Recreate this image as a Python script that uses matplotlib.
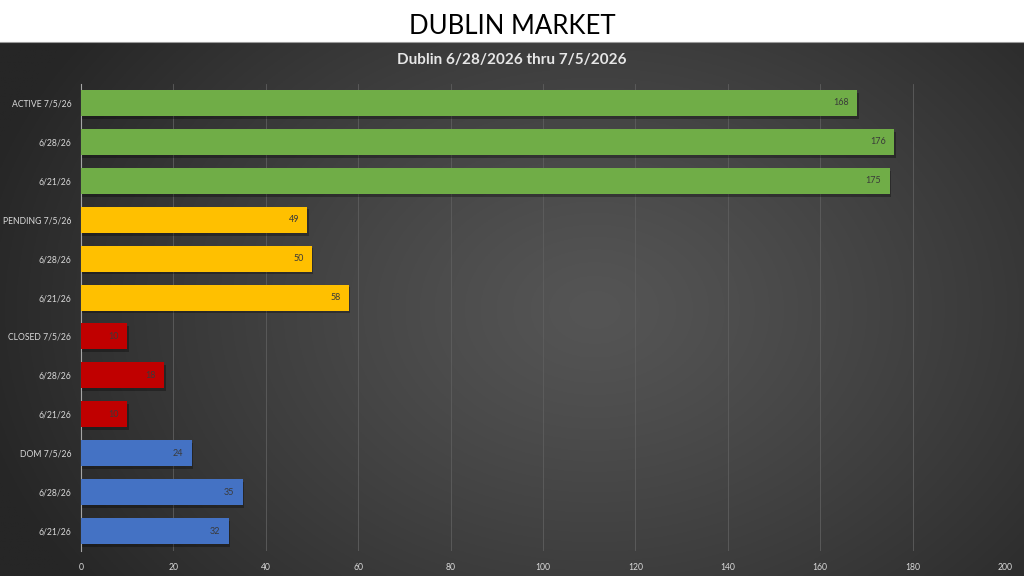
import numpy as np
import matplotlib
matplotlib.use("Agg")
import matplotlib.pyplot as plt
import matplotlib.patheffects as pe

plt.rcParams['font.family'] = ['Lato', 'DejaVu Sans']

# ---- data ----
labels = ["ACTIVE 7/5/26", "6/28/26", "6/21/26",
          "PENDING 7/5/26", "6/28/26", "6/21/26",
          "CLOSED 7/5/26", "6/28/26", "6/21/26",
          "DOM 7/5/26", "6/28/26", "6/21/26"]
active = [168, 176, 175]
pending = [49, 50, 58]
closed = [10, 18, 10]
dom = [24, 35, 32]
values = active + pending + closed + dom
group_colors = ["#70AD47", "#FFC000", "#C00000", "#4472C4"]
colors = [c for c in group_colors for _ in range(3)]
xticks = list(range(0, 201, 20))

title = "DUBLIN MARKET"
subtitle = "Dublin 6/28/2026 thru 7/5/2026"

W, H = 1024, 576
fig = plt.figure(figsize=(W / 100, H / 100), dpi=100)
fig.patch.set_facecolor("white")

# dark panel with radial gradient
panel_top = 42
bg = fig.add_axes([0, 0, 1, 1 - panel_top / H])
ny, nx = 300, 600
yy, xx = np.mgrid[0:ny, 0:nx]
cx, cy = 0.58 * nx, 0.50 * ny
d = np.sqrt(((xx - cx) / nx) ** 2 + ((yy - cy) / ny * 0.7) ** 2)
d = np.clip(d / 0.62, 0, 1) ** 1.2
light = np.array([0x55, 0x55, 0x55]) / 255
dark = np.array([0x26, 0x26, 0x26]) / 255
img = light[None, None, :] * (1 - d[..., None]) + dark[None, None, :] * d[..., None]
bg.imshow(img, aspect="auto", extent=[0, 1, 0, 1], origin="upper")
bg.axis("off")
fig.add_artist(plt.Line2D([0, 1], [1 - panel_top / H, 1 - panel_top / H],
                          color="#9a9a9a", lw=0.8, transform=fig.transFigure))

fig.text(0.5, 1 - 27 / H, title, ha="center", va="center", fontsize=18.5, color="black")
fig.text(0.5, 1 - 60 / H, subtitle, ha="center", va="center", fontsize=11,
         fontweight="bold", color="#e6e6e6")

left, right = 81 / W, 1005 / W
top, bottom = 83.5 / H, 550.5 / H
ax = fig.add_axes([left, 1 - bottom, right - left, bottom - top])
ax.patch.set_alpha(0)

y = np.arange(len(values))
bars = ax.barh(y, values, height=0.67, color=colors, zorder=3)
for b in bars:
    b.set_path_effects([pe.SimplePatchShadow(offset=(1.0, -2.0), shadow_rgbFace="black", alpha=0.3),
                        pe.Normal()])
for yi, v in zip(y, values):
    ax.text(v - 1.8, yi, str(v), ha="right", va="center", fontsize=6.5,
            color="#3a3a3a", zorder=4)

ax.set_ylim(len(values) - 0.5, -0.5)
ax.set_xlim(0, 200)
ax.set_xticks(xticks)
ax.set_xticklabels([str(t) for t in xticks])
ax.set_yticks(y)
ax.set_yticklabels(labels)
ax.tick_params(axis="both", length=0, colors="#d9d9d9", labelsize=6.2)
ax.tick_params(axis="x", pad=9)
ax.tick_params(axis="y", pad=7)
ax.grid(axis="x", color="#5e5e5e", lw=0.6, zorder=0)
for s in ["top", "right", "bottom"]:
    ax.spines[s].set_visible(False)
ax.spines["left"].set_color("#a6a6a6")
ax.spines["left"].set_linewidth(0.8)

fig.savefig("out.png", dpi=100)
